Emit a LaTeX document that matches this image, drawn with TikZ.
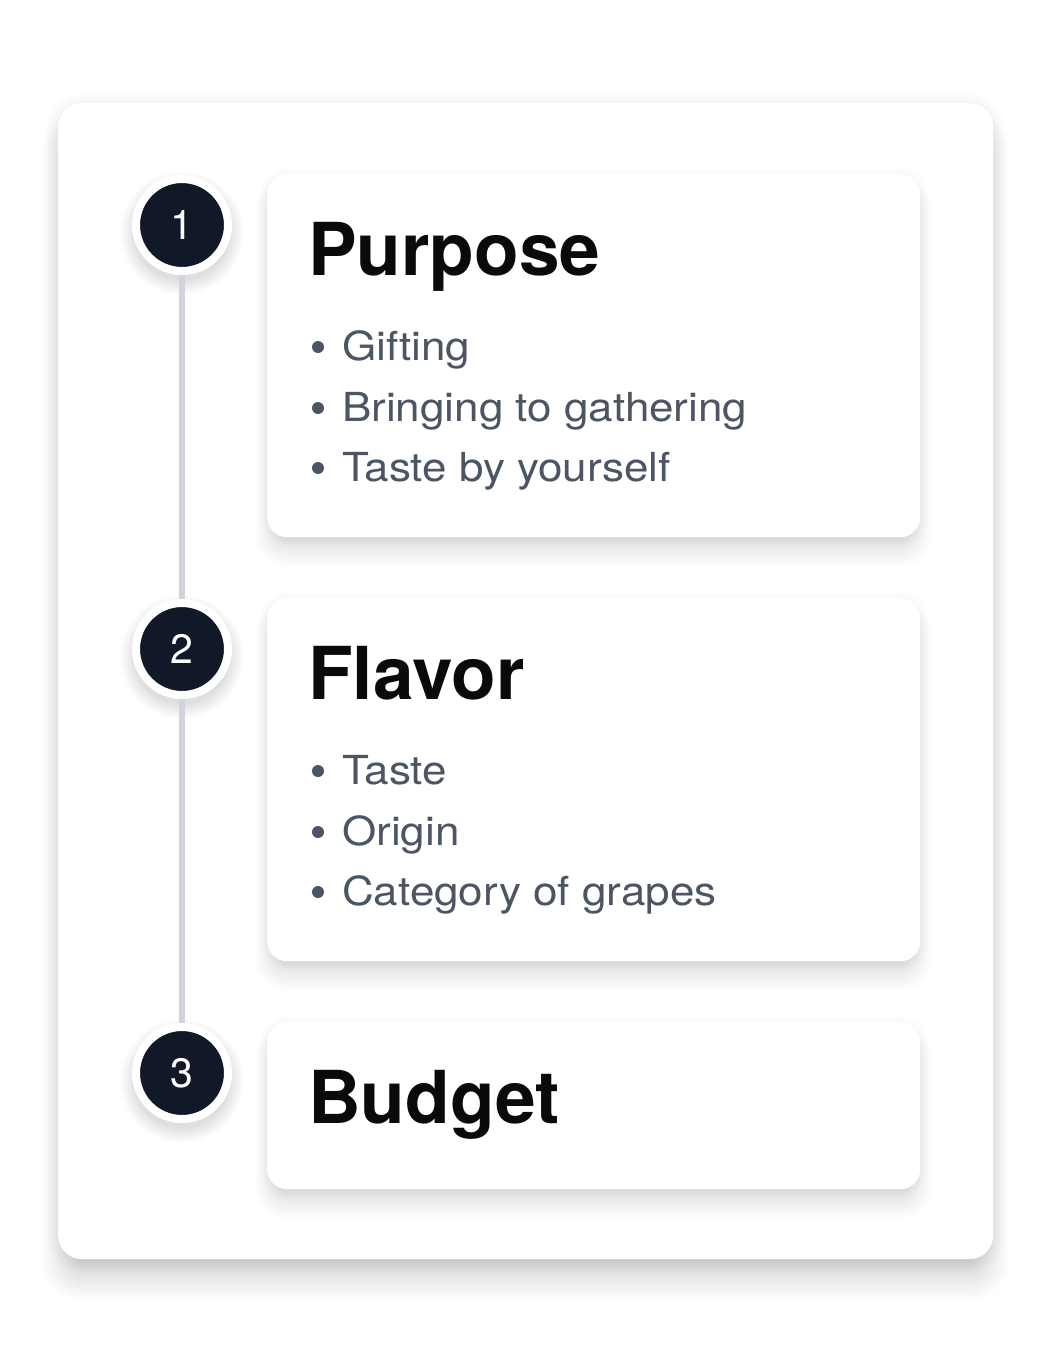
\documentclass[tikz,border=0pt]{standalone}
\usepackage{fontspec}
\setmainfont{TeX Gyre Heros}
\newfontfamily\bodyfont[FakeStretch=1.1]{TeX Gyre Heros}
\newfontfamily\titlefont{TeX Gyre Heros}
\definecolor{darkc}{HTML}{111827}
\definecolor{bodyc}{HTML}{4B5563}
\definecolor{titlec}{HTML}{0A0A0A}
\definecolor{linec}{HTML}{D1D5DB}
\pgfdeclarelayer{bg}
\pgfdeclarelayer{mid}
\pgfsetlayers{bg,mid,main}
% x1 y1 x2 y2 radius inset(k) dy steps opacity
\newcommand\softshadow[9]{%
  \foreach \i in {1,...,#8}{%
    \pgfmathsetmacro\rr{max(#5-#6+\i,1)}%
    \fill[black, opacity=#9, rounded corners=\rr pt] (#1+#6-\i,#2+#6+#7-\i) rectangle (#3-#6+\i,#4-#6+#7+\i);
  }%
}
\tikzset{
  card/.style={fill=white, rounded corners=20pt, anchor=north west, inner sep=0pt, minimum width=653pt},
  numcirc/.style={circle, fill=darkc, draw=white, line width=8pt, minimum size=92pt, inner sep=0pt, text=white, font=\fontsize{41}{41}\selectfont},
  title/.style={anchor=base west, inner sep=0pt, text=titlec, font=\titlefont\bfseries\fontsize{73}{73}\selectfont},
  item/.style={anchor=base west, inner sep=0pt, text=bodyc, font=\bodyfont\fontsize{40}{40}\selectfont},
  dot/.style={circle, fill=bodyc, minimum size=12pt, inner sep=0pt},
  vline/.style={draw=linec, line width=6pt},
}
\begin{document}
\begin{tikzpicture}[x=1pt, y=-1pt]
\useasboundingbox (0,0) rectangle (1051,1363);
\begin{pgfonlayer}{bg}
  \fill[white] (0,0) rectangle (1051,1363);
  % outer card shadow
  \softshadow{58}{103}{993}{1259}{24}{25}{25}{42}{0.0045}
  \softshadow{58}{103}{993}{1259}{24}{0}{2}{12}{0.003}
  \node[fill=white, rounded corners=24pt, anchor=north west, inner sep=0pt, minimum width=935pt, minimum height=1156pt] (outer) at (58,103) {};
  % card shadows
  \foreach \cy/\ch in {174/537, 598/961, 1022/1189}{
    \softshadow{267}{\cy}{920}{\ch}{20}{15}{17}{28}{0.0035}
    \softshadow{267}{\cy}{920}{\ch}{20}{0}{2}{8}{0.003}
  }
  % circle shadows
  \foreach \cy in {225,649,1073}{
    \foreach \i in {1,...,16}{
      \fill[black, opacity=0.006] (182,\cy+8) circle ({46+\i});
    }
  }
\end{pgfonlayer}

\node[card, minimum height=363pt] (c1) at (267,174) {};
\node[card, minimum height=363pt] (c2) at (267,598) {};
\node[card, minimum height=167pt] (c3) at (267,1022) {};

\node[numcirc] (n1) at (182,225) {1};
\node[numcirc] (n2) at (182,649) {2};
\node[numcirc] (n3) at (182,1073) {3};
\begin{pgfonlayer}{mid}
  \draw[vline] (n1.center) -- (n2.center);
  \draw[vline] (n2.center) -- (n3.center);
\end{pgfonlayer}

\node[title] (t1) at (308,275) {Purpose};
\node[dot] (d11) at (318,347) {};
\node[item] (i11) at (342,360) {Gifting};
\node[dot] (d12) at (318,408) {};
\node[item] (i12) at (342,421) {Bringing to gathering};
\node[dot] (d13) at (318,468) {};
\node[item] (i13) at (342,481) {Taste by yourself};

\node[title] (t2) at (308,699) {Flavor};
\node[dot] (d21) at (318,771) {};
\node[item] (i21) at (342,784) {Taste};
\node[dot] (d22) at (318,832) {};
\node[item] (i22) at (342,845) {Origin};
\node[dot] (d23) at (318,892) {};
\node[item] (i23) at (342,905) {Category of grapes};

\node[title] (t3) at (308,1123) {Budget};
\end{tikzpicture}
\end{document}
